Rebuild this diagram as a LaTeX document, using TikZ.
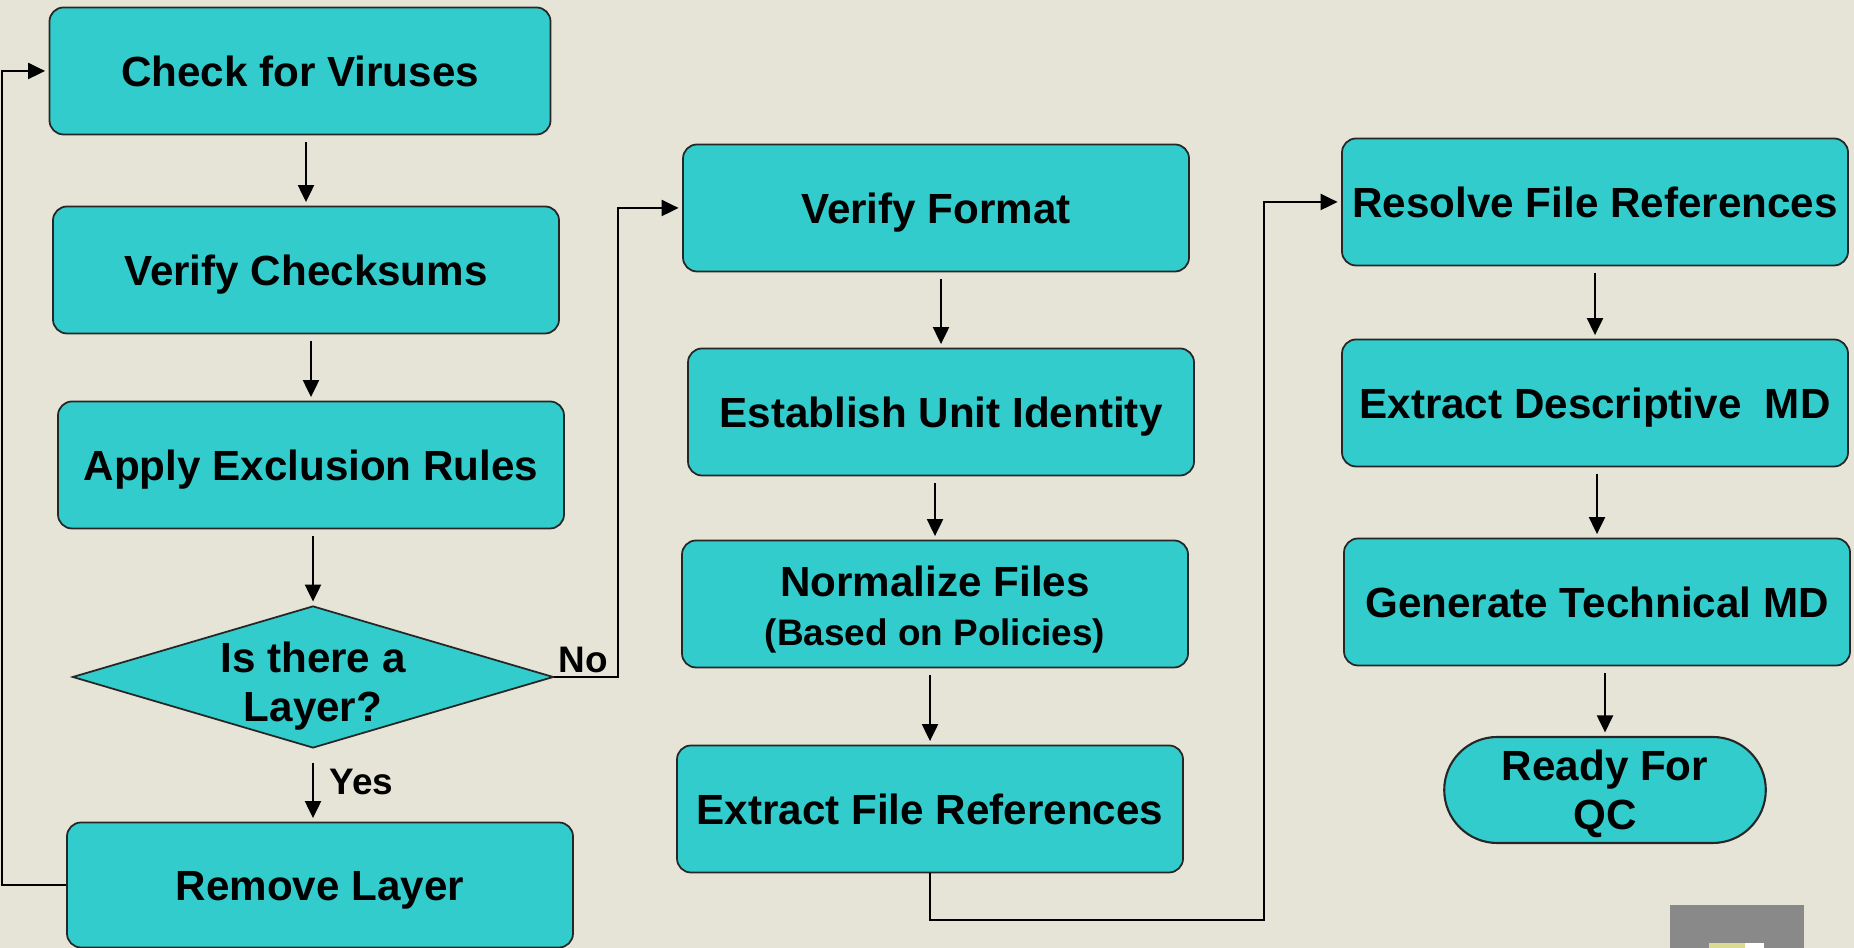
\documentclass[tikz,border=0pt]{standalone}
\usepackage{fontspec}
\setmainfont{Liberation Sans}
\usetikzlibrary{shapes.geometric,shapes.misc,arrows.meta}
\definecolor{slidebg}{RGB}{230,228,214}
\definecolor{boxteal}{RGB}{51,204,204}
\definecolor{logogray}{RGB}{137,137,137}
\definecolor{logoyellow}{RGB}{218,218,146}
\begin{document}
\begin{tikzpicture}[font=\fontsize{12}{14}\selectfont\bfseries,
  stepbox/.style={draw=black!85, line width=0.5pt, fill=boxteal,
    rounded corners=0.14cm, minimum width=5.06cm, minimum height=1.27cm,
    align=center, inner sep=2pt, text height=8.6pt, text depth=0pt},
  flow/.style={-{Triangle[length=0.17cm,width=0.16cm]}, line width=0.6pt,
    shorten >=1pt},
  tag/.style={font=\fontsize{10.5}{12}\selectfont\bfseries, inner sep=1pt}]
  \useasboundingbox (0,0) rectangle (18.54,9.48);
  \fill[slidebg] (0,0) rectangle (18.54,9.48);
  % first column
  \node[stepbox, minimum width=5.01cm] (cfv) at (3.00,8.77) {Check for Viruses};
  \node[stepbox] (vcs) at (3.06,6.78) {Verify Checksums};
  \node[stepbox] (aer) at (3.11,4.83) {Apply Exclusion Rules};
  \node[draw=black!85, line width=0.5pt, fill=boxteal, diamond,
    minimum width=4.81cm, minimum height=1.42cm, inner sep=0pt]
    (lay) at (3.13,2.71) {};
  \node[align=center, inner sep=0pt] (laytext) at ([yshift=-0.09cm]lay.center)
    {Is there a\\Layer?};
  \node[stepbox, minimum height=1.25cm] (rml) at (3.20,0.63) {Remove Layer};
  % second column
  \node[stepbox] (vf) at (9.36,7.40) {Verify Format};
  \node[stepbox] (eui) at (9.41,5.36) {Establish Unit Identity};
  \node[stepbox, text height=, text depth=] (nf) at (9.35,3.44)
    {\rule{0pt}{12pt}Normalize Files\\
    {\fontsize{10.5}{12}\selectfont (Based on Policies)}};
  \node[stepbox] (efr) at (9.30,1.39) {Extract File References};
  % third column
  \node[stepbox] (rfr) at (15.95,7.46) {Resolve File References};
  \node[stepbox] (edm) at (15.95,5.45) {Extract Descriptive\ \ MD};
  \node[stepbox] (gtm) at (15.97,3.46) {Generate Technical MD};
  \node[draw=black!85, line width=0.6pt, fill=boxteal, rounded rectangle,
    minimum width=3.45cm, minimum height=1.06cm, inner ysep=1pt, align=center]
    (rqc) at (16.05,1.58) {\rule{0pt}{10.8pt}Ready For\\QC};
  % straight arrows
  \foreach \a/\b in {cfv/vcs, vcs/aer, aer/lay, vf/eui, eui/nf, nf/efr,
    rfr/edm, edm/gtm, gtm/rqc}
    \draw[flow, shorten <=2pt] (\b.north |- \a.south) -- (\b.north);
  % decision
  \draw[flow, shorten <=4pt] (lay.south) --
    node[tag, right=0.12cm, pos=0.45] (yes) {Yes} (lay.south |- rml.north);
  \draw[flow] (lay.east) -- node[tag, above, pos=0.45] (no) {No}
    ++(0.64,0) |- (vf.west);
  \draw[flow] (rml.west) -- ++(-0.645,0) |- (cfv.west);
  % to last column
  \draw[flow] (efr.south) -- ++(0,-0.47) -- ++(3.34,0) |- (rfr.west);
  % logo corner
  \fill[logogray] (16.70,0) rectangle (18.04,0.43);
  \fill[logoyellow] (17.09,0) rectangle (17.45,0.05);
  \fill[white] (17.45,0) rectangle (17.64,0.05);
\end{tikzpicture}
\end{document}
